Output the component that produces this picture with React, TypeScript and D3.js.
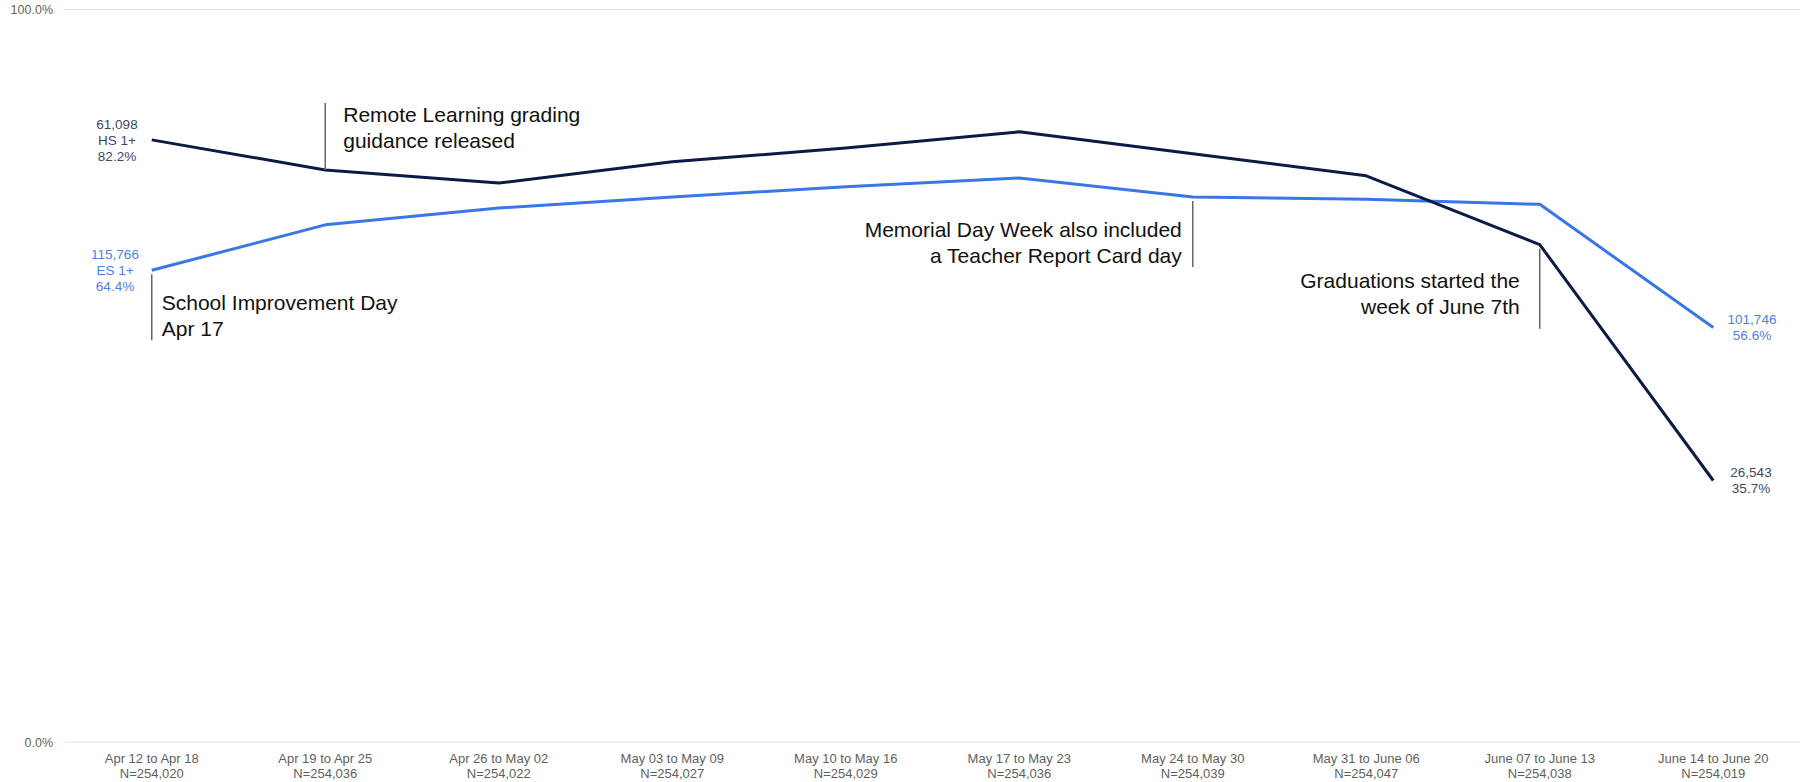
import React from 'react';
import * as d3 from 'd3';

const weeks = [
  'Apr 12 to Apr 18', 'Apr 19 to Apr 25', 'Apr 26 to May 02', 'May 03 to May 09', 'May 10 to May 16',
  'May 17 to May 23', 'May 24 to May 30', 'May 31 to June 06', 'June 07 to June 13', 'June 14 to June 20',
];
const weekCounts = [
  'N=254,020', 'N=254,036', 'N=254,022', 'N=254,027', 'N=254,029',
  'N=254,036', 'N=254,039', 'N=254,047', 'N=254,038', 'N=254,019',
];

// percent of students with 1+ day, per week
const hsValues = [82.2, 78.1, 76.3, 79.2, 81.1, 83.3, 80.3, 77.3, 67.9, 35.7];
const esValues = [64.4, 70.6, 72.9, 74.4, 75.8, 77.0, 74.4, 74.1, 73.4, 56.6];

const hsStartLabel = ['61,098', 'HS 1+', '82.2%'];
const hsEndLabel = ['26,543', '35.7%'];
const esStartLabel = ['115,766', 'ES 1+', '64.4%'];
const esEndLabel = ['101,746', '56.6%'];

const yTicks = [0, 100];

const notes = [
  { series: 'es', index: 0, lines: ['School Improvement Day', 'Apr 17'], side: 'right', dir: 'down' },
  { series: 'hs', index: 1, lines: ['Remote Learning grading', 'guidance released'], side: 'right', dir: 'up' },
  { series: 'es', index: 6, lines: ['Memorial Day Week also included', 'a Teacher Report Card day'], side: 'left', dir: 'down' },
  { series: 'hs', index: 8, lines: ['Graduations started the', 'week of June 7th'], side: 'left', dir: 'down' },
];

const W = 1810;
const H = 782;
const FONT = '"Liberation Sans", Arial, sans-serif';
const HS_COLOR = '#0c1a44';
const ES_COLOR = '#3a77e6';
const HS_LABEL = '#3d4868';
const ES_LABEL = '#4d7fe4';

export default function App() {
  const x = d3.scalePoint<string>().domain(weeks).range([65, 1800]).padding(0.5);
  const y = d3.scaleLinear().domain([0, 100]).range([742, 9.5]);

  const line = d3.line<number>()
    .x((_, i) => x(weeks[i]) as number)
    .y(d => y(d));

  const px = (i: number) => x(weeks[i]) as number;
  const seriesVals: Record<string, number[]> = { hs: hsValues, es: esValues };
  const last = weeks.length - 1;

  const stackLabel = (lines: string[], cx: number, cy: number, color: string, key: string) => (
    <text key={key} x={cx} textAnchor="middle" fill={color} fontSize={13.5} fontFamily={FONT}>
      {lines.map((l, i) => (
        <tspan key={i} x={cx} y={cy + (i - (lines.length - 1) / 2) * 16 + 5}>{l}</tspan>
      ))}
    </text>
  );

  return (
    <div style={{ position: 'fixed', left: 0, top: 0 }}>
      <svg width={W} height={H} style={{ display: 'block', background: '#fff' }}>
        {/* gridlines + y labels */}
        {yTicks.map(t => (
          <g key={t}>
            <line x1={65} x2={1800} y1={y(t)} y2={y(t)} stroke="#e0e0e0" strokeWidth={1} />
            <text x={53} y={y(t) + 4.5} textAnchor="end" fontSize={12.5} fill="#5f5f5f" fontFamily={FONT}>
              {t.toFixed(1)}%
            </text>
          </g>
        ))}

        {/* x axis labels */}
        {weeks.map((w, i) => (
          <text key={w} x={px(i)} textAnchor="middle" fontSize={13} fill="#5f5f5f" fontFamily={FONT}>
            <tspan x={px(i)} y={763}>{w}</tspan>
            <tspan x={px(i)} y={778}>{weekCounts[i]}</tspan>
          </text>
        ))}

        {/* series */}
        <path d={line(esValues) || ''} fill="none" stroke={ES_COLOR} strokeWidth={3} strokeLinejoin="round" />
        <path d={line(hsValues) || ''} fill="none" stroke={HS_COLOR} strokeWidth={3} strokeLinejoin="round" />

        {/* data labels */}
        {stackLabel(hsStartLabel, 117, y(hsValues[0]), HS_LABEL, 'hs0')}
        {stackLabel(esStartLabel, 115, y(esValues[0]), ES_LABEL, 'es0')}
        {stackLabel(hsEndLabel, 1751, y(hsValues[last]), HS_LABEL, 'hs1')}
        {stackLabel(esEndLabel, 1752, y(esValues[last]), ES_LABEL, 'es1')}

        {/* annotations */}
        {notes.map((n, k) => {
          const cx = px(n.index);
          const cy = y(seriesVals[n.series][n.index]);
          const up = n.dir === 'up';
          const y1 = up ? cy - 67 : cy + 4;
          const y2 = up ? cy : cy + (n.series === 'hs' ? 84 : 70);
          const tx = n.side === 'right' ? cx + (up ? 18 : 10) : cx - (n.series === 'hs' ? 20 : 11);
          const base = up ? cy - 48 : cy + (n.series === 'hs' ? 43 : 40);
          return (
            <g key={k}>
              <line x1={cx} x2={cx} y1={y1} y2={y2} stroke="#666" strokeWidth={1.5} />
              <text textAnchor={n.side === 'right' ? 'start' : 'end'} fontSize={21} fill="#111" fontFamily={FONT}>
                {n.lines.map((l, i) => (
                  <tspan key={i} x={tx} y={base + i * 26}>{l}</tspan>
                ))}
              </text>
            </g>
          );
        })}
      </svg>
    </div>
  );
}
